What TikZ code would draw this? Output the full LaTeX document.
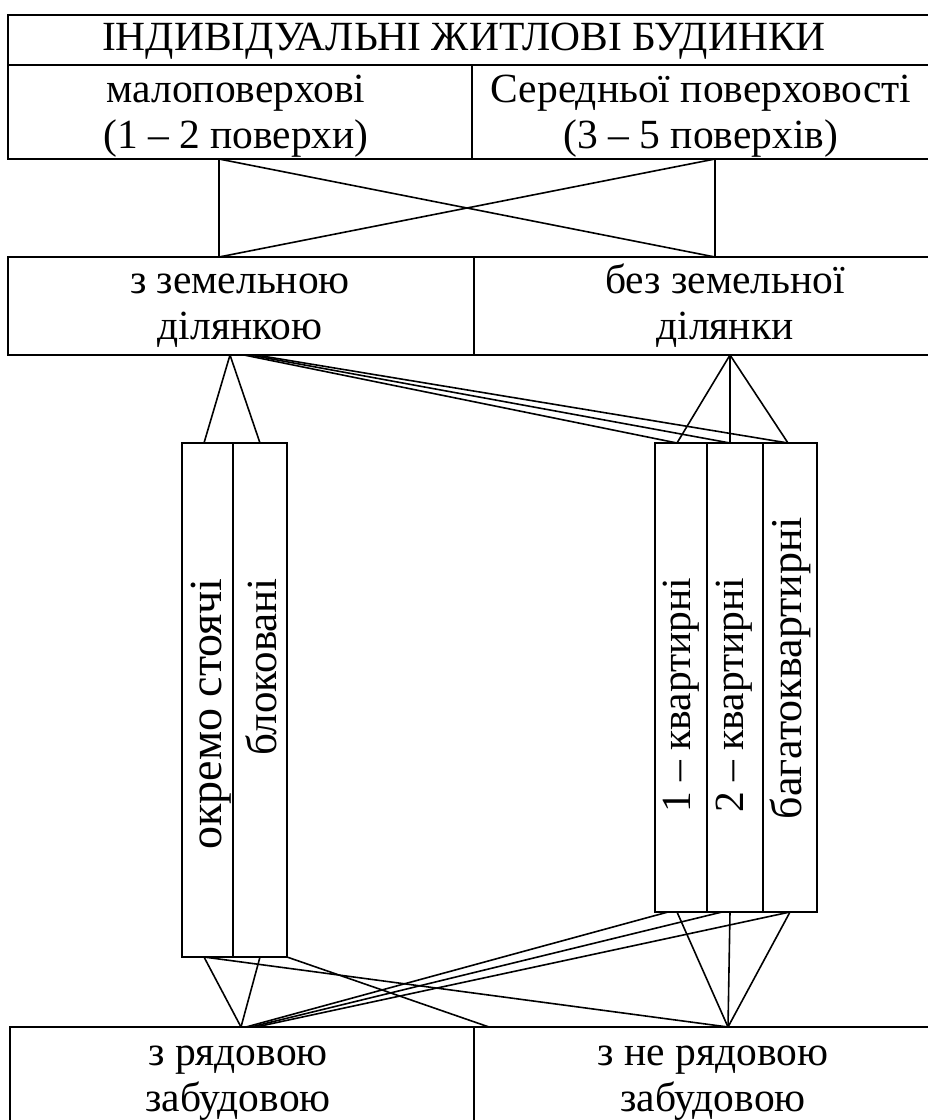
\documentclass[tikz,border=0pt]{standalone}
\usepackage{fontspec}
\setmainfont{Liberation Serif}
\begin{document}
\begin{tikzpicture}[x=1pt,y=-1pt,
  frame/.style={draw=black, line width=2pt, inner sep=0pt, outer sep=0pt, rectangle, anchor=north west},
  vbox/.style={frame, line width=1.6pt},
  conn/.style={draw=black, line width=1.6pt},
  lbl/.style={font=\fontsize{41.5}{46}\selectfont, align=center, inner sep=0pt, anchor=north},
  vlbl/.style={rotate=90, inner sep=0pt}]
\useasboundingbox (0,0) rectangle (928,1120);
\clip (0,0) rectangle (928,1120);
% frames
\node[frame, minimum width=932pt, minimum height=50pt] (title) at (8,15) {};
\node[frame, minimum width=464pt, minimum height=94pt] (low) at (8,65) {};
\node[frame, minimum width=468pt, minimum height=94pt] (mid) at (472,65) {};
\node[frame, minimum width=496pt, minimum height=98pt] (xbox) at (219,159) {};
\node[frame, minimum width=466pt, minimum height=98pt] (zem) at (8,257) {};
\node[frame, minimum width=466pt, minimum height=98pt] (bez) at (474,257) {};
\node[vbox, minimum width=51pt, minimum height=514pt] (ok) at (182,443) {};
\node[vbox, minimum width=54pt, minimum height=514pt] (bl) at (233,443) {};
\node[vbox, minimum width=52pt, minimum height=469pt] (k1) at (655,443) {};
\node[vbox, minimum width=56pt, minimum height=469pt] (k2) at (707,443) {};
\node[vbox, minimum width=54pt, minimum height=469pt] (k3) at (763,443) {};
\node[frame, minimum width=464pt, minimum height=120pt] (ryad) at (10,1027) {};
\node[frame, minimum width=466pt, minimum height=120pt] (neryad) at (474,1027) {};
% texts
\node[lbl] (tT) at (464,17.8) {\strut ІНДИВІДУАЛЬНІ ЖИТЛОВІ БУДИНКИ};
\node[lbl] (tL) at (236,69.8) {\strut малоповерхові\\\strut (1 – 2 поверхи)};
\node[lbl] (tM) at (701,69.8) {\strut Середньої поверховості\\\strut (3 – 5 поверхів)};
\node[lbl] (tZ) at (240,260.8) {\strut з земельною\\\strut ділянкою};
\node[lbl] (tB) at (725,260.8) {\strut без земельної\\\strut ділянки};
\node[lbl] (tR) at (238,1032.8) {\strut з рядовою\\\strut забудовою};
\node[lbl] (tN) at (713,1032.8) {\strut з не рядовою\\\strut забудовою};
\node[vlbl, font=\fontsize{46}{50}\selectfont] (vOk) at (211,714) {окремо стоячі};
\node[vlbl, font=\fontsize{43}{48}\selectfont] (vBl) at (261,667) {блоковані};
\node[vlbl, font=\fontsize{41.5}{46}\selectfont] (vK1) at (681,695) {1 – квартирні};
\node[vlbl, font=\fontsize{41.5}{46}\selectfont] (vK2) at (734,695) {2 – квартирні};
\node[vlbl, font=\fontsize{44}{48}\selectfont] (vK3) at (790,668) {багатоквартирні};
% connector points
\coordinate (zA) at (230,355);
\coordinate (zB1) at (244,355);
\coordinate (zB2) at (250,355);
\coordinate (zB3) at (256,355);
\coordinate (bA) at (730,355);
\coordinate (okT) at (204,443);
\coordinate (blT) at (260,443);
\coordinate (k1T) at (677,443);
\coordinate (k2T) at (730,443);
\coordinate (k3T) at (788,443);
\coordinate (okB) at (204,957);
\coordinate (blB) at (260,957);
\coordinate (k1B) at (677,912);
\coordinate (k1Bb) at (668,912);
\coordinate (k2B) at (730,912);
\coordinate (k2Bb) at (722,912);
\coordinate (k3B) at (790,912);
\coordinate (rA) at (241,1027);
\coordinate (rB1) at (246,1027);
\coordinate (rB2) at (251,1027);
\coordinate (rB3) at (256,1027);
\coordinate (nA) at (728,1027);
\coordinate (rEnd) at (489,1027);
% X box diagonals
\draw[conn] (xbox.north west) -- (xbox.south east);
\draw[conn] (xbox.north east) -- (xbox.south west);
% upper connectors
\draw[conn] (zA) -- (okT);
\draw[conn] (zA) -- (blT);
\draw[conn] (zB1) -- (k1T);
\draw[conn] (zB2) -- (k2T);
\draw[conn] (zB3) -- (k3T);
\draw[conn] (bA) -- (k1T);
\draw[conn] (bA) -- (k2T);
\draw[conn] (bA) -- (k3T);
% lower connectors
\draw[conn] (okB) -- (rA);
\draw[conn] (blB) -- (rA);
\draw[conn] (okB) -- (nA);
\draw[conn] (bl.south east) -- (rEnd);
\draw[conn] (k1B) -- (nA);
\draw[conn] (k2B) -- (nA);
\draw[conn] (k3B) -- (nA);
\draw[conn] (k1Bb) -- (rB1);
\draw[conn] (k2Bb) -- (rB2);
\draw[conn] (k3B) -- (rB3);
\end{tikzpicture}
\end{document}
